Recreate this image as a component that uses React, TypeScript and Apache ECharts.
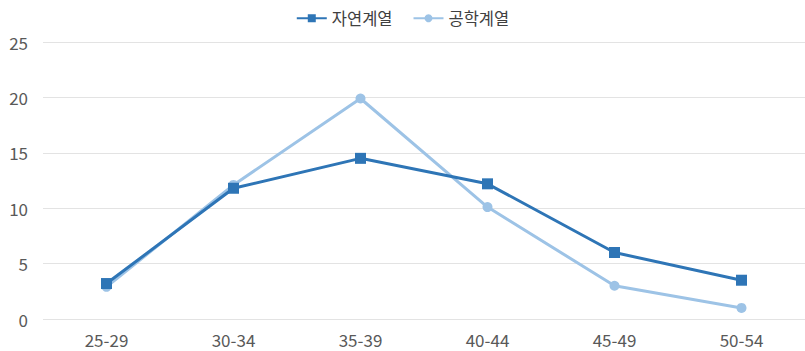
import React, { useEffect, useRef } from "react";
import * as echarts from "echarts";

const categories = ["25-29", "30-34", "35-39", "40-44", "45-49", "50-54"];
const naturalSci = [3.2, 11.8, 14.5, 12.2, 6.0, 3.5];
const engineering = [2.9, 12.1, 19.9, 10.1, 3.0, 1.0];
const seriesNames = ["자연계열", "공학계열"];

export default function App() {
  const ref = useRef<HTMLDivElement>(null);
  useEffect(() => {
    const chart = echarts.init(ref.current!, null, { renderer: "svg" });
    const font = "'Noto Sans CJK KR', 'Noto Sans', sans-serif";
    chart.setOption({
      animation: false,
      textStyle: { fontFamily: font },
      legend: {
        top: 5,
        left: "center",
        itemWidth: 30,
        itemHeight: 10,
        itemGap: 20,
        textStyle: { fontSize: 16.5, color: "#404040", fontFamily: font },
        data: seriesNames,
      },
      grid: { left: 43, right: -4, top: 42, bottom: 32 },
      xAxis: {
        type: "category",
        data: categories,
        boundaryGap: true,
        axisLine: { show: false },
        axisTick: { show: false },
        axisLabel: { fontSize: 17, lineHeight: 18, color: "#595959", margin: 11, fontFamily: font },
      },
      yAxis: {
        type: "value",
        min: 0,
        max: 25,
        interval: 5,
        axisLine: { show: false },
        axisTick: { show: false },
        splitLine: { lineStyle: { color: "#e3e3e3", width: 1 } },
        axisLabel: { fontSize: 17, color: "#595959", margin: 15, fontFamily: font },
      },
      series: [
        {
          name: seriesNames[0],
          type: "line",
          data: naturalSci,
          symbol: "rect",
          symbolSize: 11,
          lineStyle: { color: "#2e75b6", width: 3 },
          itemStyle: { color: "#2e75b6" },
          z: 3,
        },
        {
          name: seriesNames[1],
          type: "line",
          data: engineering,
          symbol: "circle",
          symbolSize: 10,
          lineStyle: { color: "#9dc3e6", width: 3 },
          itemStyle: { color: "#9dc3e6" },
          z: 2,
        },
      ],
    });
    return () => chart.dispose();
  }, []);
  return <div ref={ref} style={{ width: 805, height: 351, position: "absolute", left: 0, top: 0 }} />;
}
